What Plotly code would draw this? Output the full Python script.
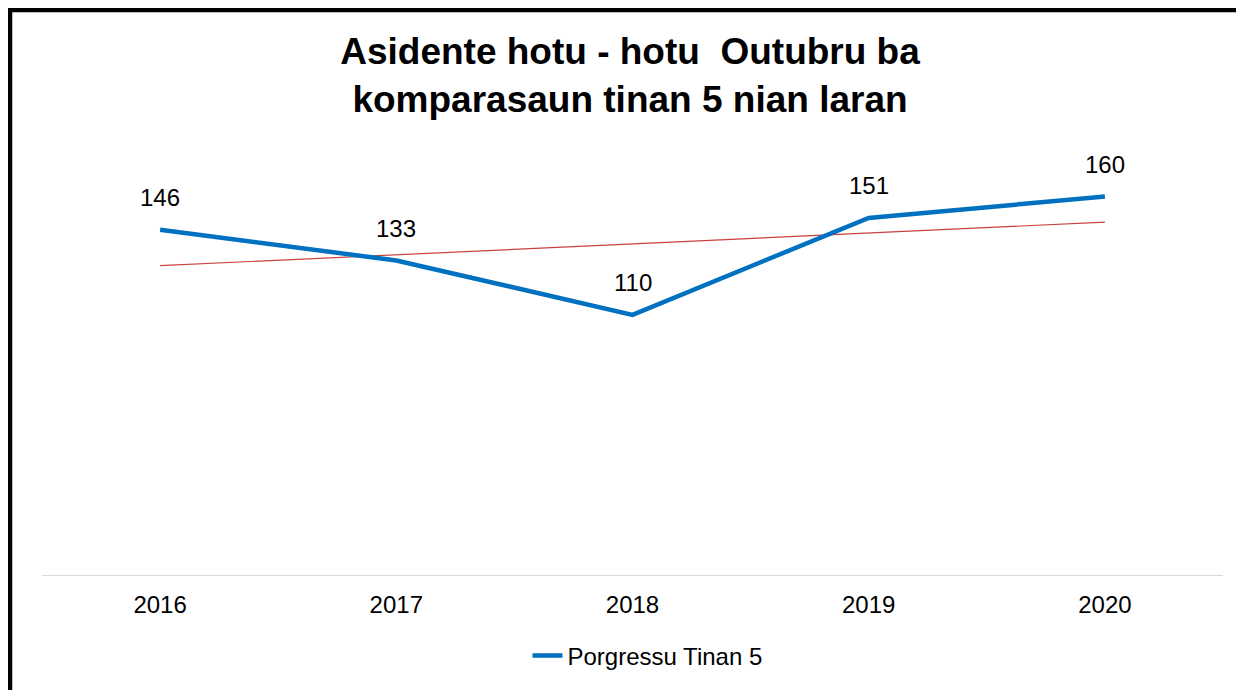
import numpy as np
import plotly.graph_objects as go

years = ["2016", "2017", "2018", "2019", "2020"]
values = [146, 133, 110, 151, 160]
series_name = "Porgressu Tinan 5"
title_lines = ["Asidente hotu - hotu&nbsp; Outubru ba", "komparasaun tinan 5 nian laran"]

W, H = 1244, 690
L, R, T, B = 34, 29, 94, 123
pw, ph = W - L - R, H - T - B

# linear trendline from data
xi = np.arange(len(values))
slope, intercept = np.polyfit(xi, values, 1)
trend = [float(v) for v in slope * xi + intercept]

fig = go.Figure()
fig.add_trace(go.Scatter(x=years, y=trend, mode="lines", showlegend=False,
                         line=dict(color="#C8403C", width=1.2), hoverinfo="skip"))
fig.add_trace(go.Scatter(x=years, y=values, mode="lines", name=series_name,
                         line=dict(color="#0070C0", width=4.5)))

for i, v in enumerate(values):
    fig.add_annotation(x=i, y=v, xref="x", yref="y", text=str(v), showarrow=False, yshift=32,
                       font=dict(family="Arial, Liberation Sans", size=24, color="#000000"))

def px2paper_x(px):
    return (px - L) / pw

def px2paper_y(py):
    return (H - B - py) / ph

# outer frame
fig.add_shape(type="rect", xref="paper", yref="paper",
              x0=px2paper_x(2), x1=px2paper_x(W - 2), y0=px2paper_y(H - 2), y1=px2paper_y(2),
              line=dict(color="#000000", width=4.5), fillcolor="rgba(0,0,0,0)")

fig.update_layout(
    width=W, height=H,
    margin=dict(l=L, r=R, t=T, b=B),
    paper_bgcolor="white", plot_bgcolor="white",
    title=dict(text="<b>" + "<br>".join(title_lines) + "</b>", x=0.5, xanchor="center",
               y=1 - 56 / H, yanchor="middle",
               font=dict(family="Arial, Liberation Sans", size=37, color="#000000")),
    font=dict(family="Arial, Liberation Sans", size=24, color="#000000"),
    showlegend=True,
    legend=dict(orientation="h", x=0.5 + 15 / pw, xanchor="center", y=px2paper_y(648),
                yanchor="middle", font=dict(size=24), bgcolor="rgba(0,0,0,0)"),
    xaxis=dict(type="category", range=[-0.5, len(years) - 0.5], showgrid=False, showline=True,
               linecolor="#D9D9D9", linewidth=1, ticks="", tickfont=dict(size=24),
               zeroline=False, ticklabelstandoff=8),
    yaxis=dict(range=[0, 200], visible=False, showgrid=False, zeroline=False),
)

fig.write_html("out.html")
